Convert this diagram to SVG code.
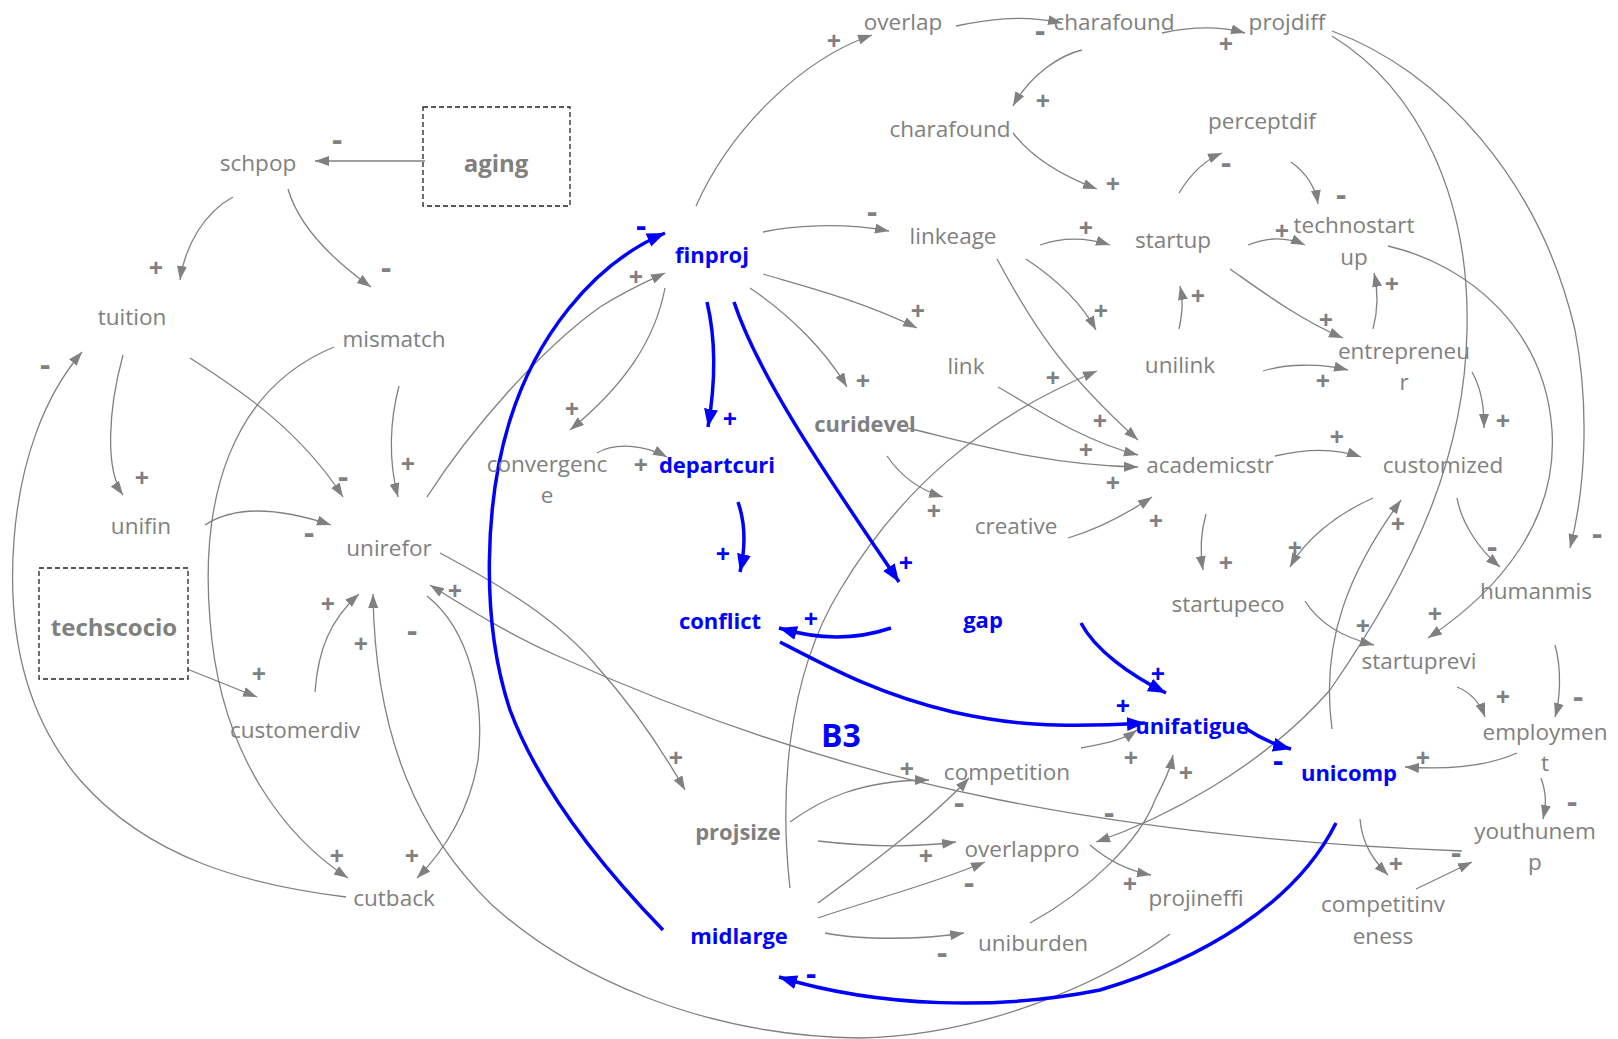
<svg xmlns="http://www.w3.org/2000/svg" width="1618" height="1039" viewBox="0 0 1618 1039">
  <defs>
    <marker id="ah" markerUnits="userSpaceOnUse" markerWidth="15" markerHeight="11" refX="14" refY="5" orient="auto">
      <path d="M0,0 L14,5 L0,10 z" fill="#808080"/>
    </marker>
    <marker id="ahb" markerUnits="userSpaceOnUse" markerWidth="20" markerHeight="15" refX="18" refY="7" orient="auto">
      <path d="M0,0 L18,7 L0,14 z" fill="#0000ff"/>
    </marker>
    <style>
      .n { font-family: "Open Sans", "Noto Sans", sans-serif; font-size: 22.5px; fill: #808080; text-anchor: middle; dominant-baseline: central; }
      .nb { font-family: "Open Sans", "Noto Sans", sans-serif; font-size: 22px; font-weight: bold; fill: #808080; text-anchor: middle; dominant-baseline: central; }
      .nx { font-family: "Open Sans", "Noto Sans", sans-serif; font-size: 24px; font-weight: bold; fill: #808080; text-anchor: middle; dominant-baseline: central; }
      .k { font-family: "Open Sans", "Noto Sans", sans-serif; font-size: 22px; font-weight: bold; fill: #0000ff; text-anchor: middle; dominant-baseline: central; }
      .loop { font-family: "Open Sans", "Noto Sans", sans-serif; font-size: 32px; font-weight: bold; fill: #0000ff; text-anchor: middle; dominant-baseline: central; }
      .box { fill: none; stroke: #222; stroke-width: 1.3; stroke-dasharray: 5 3; }
      .c path { fill: none; stroke: #808080; stroke-width: 1.3; marker-end: url(#ah); }
      .cb path { fill: none; stroke: #0000ff; stroke-width: 3.5; marker-end: url(#ahb); }
      .p text, .pb text { font-family: "Open Sans", "Noto Sans", sans-serif; font-size: 25px; font-weight: bold; text-anchor: middle; dominant-baseline: central; }
      .p text { fill: #808080; }
      .pb text { fill: #0000ff; }
      .p text.m, .pb text.m { font-family: "DejaVu Sans", sans-serif; font-size: 27px; }
    </style>
  </defs>

  <!-- gray causal links -->
  <g id="connectors" class="c">
    <path d="M425,161 L315,161"/>
    <path d="M233,197 C205,212 185,245 180,280"/>
    <path d="M288,189 C300,230 340,265 371,287"/>
    <path d="M123,355 C108,410 105,470 123,495"/>
    <path d="M190,358 C240,390 300,430 343,497"/>
    <path d="M346,897 C250,885 150,860 80,780 C20,710 8,620 14,540 C20,460 45,395 82,352"/>
    <path d="M334,347 C230,390 200,500 210,620 C220,760 290,840 348,878"/>
    <path d="M399,386 C390,420 388,460 398,497"/>
    <path d="M205,525 C235,505 280,508 331,525"/>
    <path d="M187,669 L257,697"/>
    <path d="M315,692 C318,650 330,620 359,594"/>
    <path d="M1170,934 C1100,985 980,1036 860,1038 C700,1036 570,975 492,905 C420,835 375,740 373,594"/>
    <path d="M427,596 C470,630 485,700 478,760 C470,810 445,850 417,878"/>
    <path d="M427,497 C470,430 540,350 600,307 C630,288 650,280 665,273"/>
    <path d="M665,288 C655,340 625,385 570,430"/>
    <path d="M597,453 C615,442 645,445 667,457"/>
    <path d="M696,206 C730,130 800,60 872,35"/>
    <path d="M956,26 C985,20 1020,14 1062,23"/>
    <path d="M1162,33 C1190,27 1220,26 1245,33"/>
    <path d="M1082,50 C1060,55 1030,75 1013,106"/>
    <path d="M1013,133 C1030,155 1060,175 1097,189"/>
    <path d="M763,232 C790,226 840,222 889,231"/>
    <path d="M763,274 C800,285 860,300 917,328"/>
    <path d="M750,288 C790,315 825,350 847,387"/>
    <path d="M1040,245 C1060,238 1085,237 1110,245"/>
    <path d="M1026,259 C1050,275 1080,300 1096,330"/>
    <path d="M997,259 C1030,320 1060,370 1138,440"/>
    <path d="M998,387 C1030,405 1080,440 1138,455"/>
    <path d="M907,428 C960,440 1040,465 1138,467"/>
    <path d="M887,456 C900,475 920,490 943,497"/>
    <path d="M1068,538 C1095,530 1125,515 1152,497"/>
    <path d="M790,888 C780,800 785,680 840,590 C900,490 980,420 1097,371"/>
    <path d="M1179,193 C1190,175 1205,160 1222,153"/>
    <path d="M1291,162 C1305,172 1315,185 1318,204"/>
    <path d="M1248,245 C1265,238 1285,236 1305,245"/>
    <path d="M1230,269 C1260,290 1300,320 1343,338"/>
    <path d="M1179,329 C1183,310 1183,300 1180,286"/>
    <path d="M1263,371 C1285,364 1320,363 1348,370"/>
    <path d="M1373,329 C1378,310 1378,290 1374,273"/>
    <path d="M1332,31 C1440,70 1540,180 1575,330 C1590,410 1585,490 1570,548"/>
    <path d="M1332,36 C1420,90 1470,200 1467,330 C1465,450 1420,560 1330,690 C1260,770 1160,820 1096,842"/>
    <path d="M1388,246 C1470,265 1545,330 1552,430 C1558,520 1500,590 1428,638"/>
    <path d="M1472,372 C1482,390 1484,408 1484,428"/>
    <path d="M1275,456 C1300,450 1330,446 1361,457"/>
    <path d="M1206,514 C1200,535 1200,552 1203,570"/>
    <path d="M1373,498 C1335,515 1305,540 1290,567"/>
    <path d="M1457,498 C1462,525 1480,550 1500,567"/>
    <path d="M1305,601 C1320,625 1345,638 1374,645"/>
    <path d="M1332,729 C1320,640 1350,570 1401,500"/>
    <path d="M1555,645 C1562,670 1560,700 1555,717"/>
    <path d="M1457,687 C1472,693 1480,703 1485,717"/>
    <path d="M1517,753 C1490,765 1450,770 1405,767"/>
    <path d="M1541,778 C1547,795 1546,805 1543,819"/>
    <path d="M1360,819 C1362,845 1375,862 1388,875"/>
    <path d="M1416,889 C1435,880 1455,870 1472,862"/>
    <path d="M1462,851 C1300,845 1150,830 1000,800 C850,770 700,720 560,657 C510,635 470,610 430,585"/>
    <path d="M440,553 C500,585 560,620 600,670 C640,715 665,755 685,790"/>
    <path d="M790,822 C820,800 860,780 929,780"/>
    <path d="M818,841 C860,846 910,848 956,842"/>
    <path d="M818,903 C870,865 930,820 969,778"/>
    <path d="M818,918 C870,900 930,885 985,862"/>
    <path d="M825,933 C860,940 920,940 964,933"/>
    <path d="M1030,923 C1090,890 1140,840 1155,800 C1165,780 1170,770 1173,755"/>
    <path d="M1090,845 C1105,858 1125,870 1151,875"/>
    <path d="M1081,748 C1100,744 1120,742 1137,730"/>
  </g>

  <!-- loop B3 links -->
  <g id="loop-connectors" class="cb">
    <path d="M663,930 C600,865 540,790 510,710 C480,620 485,500 510,420 C535,340 590,265 665,233"/>
    <path d="M707,302 C716,340 716,380 708,427"/>
    <path d="M738,502 C746,525 745,550 740,572"/>
    <path d="M734,302 C760,380 830,480 899,582"/>
    <path d="M891,628 C855,640 820,640 779,628"/>
    <path d="M780,642 C830,668 880,695 953,712 C1010,725 1060,728 1145,723"/>
    <path d="M1081,623 C1095,650 1130,675 1166,693"/>
    <path d="M1245,728 C1260,738 1275,745 1291,749"/>
    <path d="M1336,823 C1295,905 1200,960 1100,990 C1000,1010 880,1008 779,977"/>
  </g>

  <!-- link polarities -->
  <g id="polarities" class="p">
    <text class="m" x="337" y="140">-</text>
    <text x="156" y="267">+</text>
    <text class="m" x="386" y="268">-</text>
    <text class="m" x="45" y="365">-</text>
    <text x="142" y="477">+</text>
    <text class="m" x="343" y="477">-</text>
    <text x="408" y="463">+</text>
    <text class="m" x="309" y="533">-</text>
    <text x="328" y="603">+</text>
    <text x="259" y="673">+</text>
    <text x="361" y="643">+</text>
    <text class="m" x="412" y="631">-</text>
    <text x="455" y="590">+</text>
    <text x="337" y="855">+</text>
    <text x="412" y="855">+</text>
    <text x="676" y="757">+</text>
    <text x="641" y="464">+</text>
    <text x="572" y="408">+</text>
    <text x="636" y="276">+</text>
    <text x="834" y="40">+</text>
    <text class="m" x="1040" y="31">-</text>
    <text x="1226" y="43">+</text>
    <text x="1043" y="100">+</text>
    <text x="1113" y="183">+</text>
    <text class="m" x="872" y="212">-</text>
    <text x="918" y="310">+</text>
    <text x="863" y="380">+</text>
    <text x="1086" y="227">+</text>
    <text x="1101" y="310">+</text>
    <text x="1100" y="420">+</text>
    <text x="1086" y="449">+</text>
    <text x="1113" y="482">+</text>
    <text x="934" y="510">+</text>
    <text x="1156" y="520">+</text>
    <text x="1053" y="377">+</text>
    <text class="m" x="1226" y="163">-</text>
    <text class="m" x="1341" y="195">-</text>
    <text x="1282" y="230">+</text>
    <text x="1326" y="319">+</text>
    <text x="1198" y="295">+</text>
    <text x="1323" y="380">+</text>
    <text x="1392" y="283">+</text>
    <text class="m" x="1597" y="534">-</text>
    <text class="m" x="1109" y="813">-</text>
    <text x="1435" y="613">+</text>
    <text x="1503" y="420">+</text>
    <text x="1337" y="436">+</text>
    <text x="1226" y="562">+</text>
    <text x="1295" y="547">+</text>
    <text class="m" x="1492" y="547">-</text>
    <text x="1363" y="625">+</text>
    <text x="1398" y="523">+</text>
    <text class="m" x="1578" y="697">-</text>
    <text x="1503" y="696">+</text>
    <text x="1423" y="757">+</text>
    <text class="m" x="1572" y="802">-</text>
    <text x="1396" y="863">+</text>
    <text class="m" x="1456" y="853">-</text>
    <text x="907" y="768">+</text>
    <text x="926" y="855">+</text>
    <text class="m" x="959" y="803">-</text>
    <text class="m" x="969" y="883">-</text>
    <text class="m" x="942" y="953">-</text>
    <text x="1186" y="772">+</text>
    <text x="1130" y="883">+</text>
    <text x="1131" y="757">+</text>
  </g>
  <g id="loop-polarities" class="pb">
    <text class="m" x="641" y="226">-</text>
    <text x="730" y="418">+</text>
    <text x="723" y="553">+</text>
    <text x="906" y="562">+</text>
    <text x="811" y="618">+</text>
    <text x="1123" y="705">+</text>
    <text x="1158" y="673">+</text>
    <text class="m" x="1278" y="761">-</text>
    <text class="m" x="811" y="974">-</text>
  </g>

  <!-- variables -->
  <g id="overlap"><text class="n" x="903" y="21">overlap</text></g>
  <g id="charafound_a"><text class="n" x="1114" y="21">charafound</text></g>
  <g id="projdiff"><text class="n" x="1287" y="21">projdiff</text></g>
  <g id="charafound_b"><text class="n" x="950" y="128">charafound</text></g>
  <g id="perceptdif"><text class="n" x="1262" y="120">perceptdif</text></g>
  <g id="schpop"><text class="n" x="258" y="162">schpop</text></g>
  <g id="aging"><rect class="box" x="423" y="107" width="147" height="99"/><text class="nx" x="496" y="162">aging</text></g>
  <g id="finproj"><text class="k" x="712" y="254">finproj</text></g>
  <g id="linkeage"><text class="n" x="953" y="235">linkeage</text></g>
  <g id="startup"><text class="n" x="1173" y="239">startup</text></g>
  <g id="technostartup"><text class="n" x="1354" y="224">technostart</text><text class="n" x="1354" y="256">up</text></g>
  <g id="tuition"><text class="n" x="132" y="316">tuition</text></g>
  <g id="mismatch"><text class="n" x="394" y="338">mismatch</text></g>
  <g id="link"><text class="n" x="966" y="365">link</text></g>
  <g id="unilink"><text class="n" x="1180" y="364">unilink</text></g>
  <g id="entrepreneur"><text class="n" x="1404" y="350">entrepreneu</text><text class="n" x="1404" y="381">r</text></g>
  <g id="curidevel"><text class="nb" x="865" y="423">curidevel</text></g>
  <g id="convergence"><text class="n" x="547" y="463">convergenc</text><text class="n" x="547" y="494">e</text></g>
  <g id="departcuri"><text class="k" x="717" y="464">departcuri</text></g>
  <g id="academicstr"><text class="n" x="1210" y="464">academicstr</text></g>
  <g id="customized"><text class="n" x="1443" y="464">customized</text></g>
  <g id="unifin"><text class="n" x="141" y="525">unifin</text></g>
  <g id="creative"><text class="n" x="1016" y="525">creative</text></g>
  <g id="unirefor"><text class="n" x="389" y="547">unirefor</text></g>
  <g id="humanmis"><text class="n" x="1536" y="590">humanmis</text></g>
  <g id="startupeco"><text class="n" x="1228" y="603">startupeco</text></g>
  <g id="conflict"><text class="k" x="720" y="620">conflict</text></g>
  <g id="gap"><text class="k" x="983" y="619">gap</text></g>
  <g id="techscocio"><rect class="box" x="39" y="568" width="149" height="111"/><text class="nx" x="114" y="626">techscocio</text></g>
  <g id="startuprevi"><text class="n" x="1419" y="660">startuprevi</text></g>
  <g id="customerdiv"><text class="n" x="295" y="729">customerdiv</text></g>
  <g id="unifatigue"><text class="k" x="1192" y="725">unifatigue</text></g>
  <g id="employment"><text class="n" x="1545" y="731">employmen</text><text class="n" x="1545" y="762">t</text></g>
  <g id="competition"><text class="n" x="1007" y="771">competition</text></g>
  <g id="unicomp"><text class="k" x="1349" y="772">unicomp</text></g>
  <g id="projsize"><text class="nb" x="738" y="831">projsize</text></g>
  <g id="youthunemp"><text class="n" x="1535" y="830">youthunem</text><text class="n" x="1535" y="861">p</text></g>
  <g id="overlappro"><text class="n" x="1022" y="848">overlappro</text></g>
  <g id="cutback"><text class="n" x="394" y="897">cutback</text></g>
  <g id="projineffi"><text class="n" x="1196" y="897">projineffi</text></g>
  <g id="competitinveness"><text class="n" x="1383" y="903">competitinv</text><text class="n" x="1383" y="935">eness</text></g>
  <g id="midlarge"><text class="k" x="739" y="935">midlarge</text></g>
  <g id="uniburden"><text class="n" x="1033" y="942">uniburden</text></g>

  <!-- loop marker -->
  <g id="B3"><text class="loop" x="841" y="734">B3</text></g>
</svg>
